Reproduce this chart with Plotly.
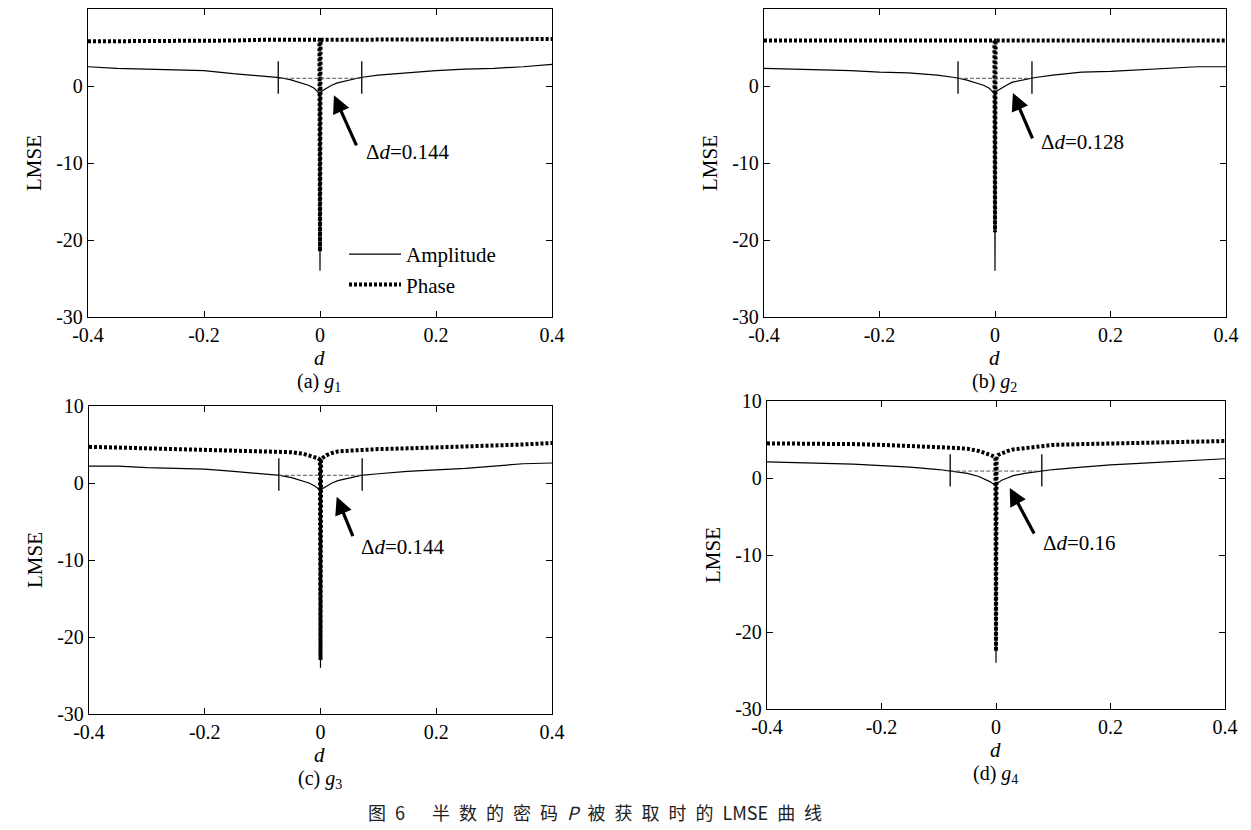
import plotly.graph_objects as go

# ---------------- data ----------------
d = [-0.4, -0.35, -0.3, -0.25, -0.2, -0.15, -0.1, -0.07, -0.05, -0.03, -0.02, -0.01,
     -0.004, -0.001, 0.0, 0.001, 0.004, 0.01, 0.02, 0.03, 0.05, 0.07, 0.1, 0.15,
     0.2, 0.25, 0.3, 0.35, 0.4]

amp_a = [2.5, 2.3, 2.2, 2.1, 2.0, 1.6, 1.3, 1.1, 0.8, 0.4, 0.1, -0.3, -0.8, -1.0, -24.0,
         -0.9, -0.6, -0.3, 0.1, 0.4, 0.8, 1.1, 1.4, 1.7, 2.0, 2.2, 2.3, 2.5, 2.8]
phase_a = [5.8, 5.8, 5.9, 5.9, 5.9, 5.9, 6.0, 6.0, 6.0, 6.0, 6.0, 6.0, 6.0, 6.0, -21.5,
           6.0, 6.0, 6.0, 6.0, 6.0, 6.0, 6.0, 6.0, 6.0, 6.0, 6.1, 6.1, 6.1, 6.1]

amp_b = [2.3, 2.2, 2.1, 2.0, 1.8, 1.7, 1.4, 1.1, 0.8, 0.4, 0.1, -0.3, -0.8, -1.0, -24.0,
         -0.9, -0.6, -0.3, 0.1, 0.5, 0.8, 1.1, 1.4, 1.8, 1.9, 2.1, 2.3, 2.5, 2.5]
phase_b = [5.9, 5.9, 5.9, 5.9, 5.9, 5.9, 5.9, 5.9, 5.9, 5.9, 5.9, 5.9, 5.9, 5.9, -19.0,
           5.9, 5.9, 5.9, 5.9, 5.9, 5.9, 5.9, 5.9, 5.9, 5.9, 5.9, 5.9, 5.9, 5.9]

amp_c = [2.2, 2.2, 2.0, 1.9, 1.8, 1.5, 1.2, 1.0, 0.7, 0.3, 0.0, -0.4, -0.7, -0.9, -24.0,
         -0.9, -0.7, -0.4, 0.0, 0.3, 0.7, 1.0, 1.2, 1.5, 1.7, 1.9, 2.2, 2.5, 2.6]
phase_c = [4.7, 4.6, 4.5, 4.5, 4.4, 4.3, 4.2, 4.1, 4.0, 3.8, 3.6, 3.4, 3.2, 3.0, -23.0,
           3.1, 3.3, 3.6, 3.9, 4.1, 4.2, 4.3, 4.4, 4.5, 4.6, 4.8, 4.9, 5.0, 5.2]

amp_d = [2.1, 2.0, 1.9, 1.8, 1.6, 1.4, 1.1, 0.8, 0.6, 0.2, -0.1, -0.5, -0.8, -1.0, -24.0,
         -0.9, -0.6, -0.3, 0.0, 0.3, 0.6, 0.8, 1.1, 1.4, 1.7, 1.9, 2.1, 2.3, 2.5]
phase_d = [4.5, 4.5, 4.4, 4.4, 4.3, 4.2, 4.0, 3.9, 3.8, 3.5, 3.3, 3.0, 2.8, 2.6, -22.5,
           2.8, 3.0, 3.2, 3.5, 3.7, 3.9, 4.1, 4.3, 4.4, 4.5, 4.6, 4.7, 4.8, 4.8]

delta_d = [0.144, 0.128, 0.144, 0.16]          # width between the two marks
mark_level = [1.0, 1.0, 1.0, 0.9]              # level of the dashed line
delta_labels = ["0.144", "0.128", "0.144", "0.16"]
panel_labels = ["(a) <i>g</i><sub>1</sub>", "(b) <i>g</i><sub>2</sub>",
                "(c) <i>g</i><sub>3</sub>", "(d) <i>g</i><sub>4</sub>"]
x_ticks = [-0.4, -0.2, 0, 0.2, 0.4]
x_ticktext = ["-0.4", "-0.2", "0", "0.2", "0.4"]
y_ticks = [-30, -20, -10, 0, 10]
y_ticktext = ["-30", "-20", "-10", "0", "10"]
caption = "图\u20026\u2003\u2002半\u2002数\u2002的\u2002密\u2002码\u2002<i>P</i>\u2002被\u2002获\u2002取\u2002时\u2002的\u2002LMSE\u2002曲\u2002线"

amps = [amp_a, amp_b, amp_c, amp_d]
phases = [phase_a, phase_b, phase_c, phase_d]

# ---------------- layout geometry (pixels) ----------------
W, H = 1251, 830
boxes = [(88, 552, 9, 317), (764, 1226, 9, 317), (89, 552, 406, 714), (767, 1225, 401, 709)]
txt_pos = [(0.076, -8.6), (0.076, -7.3), (0.066, -8.3), (0.079, -8.4)]
arr_tail = [(0.064, -7.9), (0.066, -7.0), (0.057, -7.1), (0.068, -7.4)]
arr_head = [(0.024, -1.2), (0.031, -0.9), (0.028, -1.8), (0.024, -1.3)]

SERIF = "Liberation Serif"

def px(x):
    return x / W

def py(y):
    return 1 - y / H

fig = go.Figure()
layout = dict(width=W, height=H, margin=dict(l=0, r=0, t=0, b=0, autoexpand=False),
              paper_bgcolor="white", plot_bgcolor="white",
              font=dict(family=SERIF, size=20, color="black"))
annotations = []

for i in range(4):
    xa = "x" if i == 0 else f"x{i+1}"
    ya = "y" if i == 0 else f"y{i+1}"
    xkey = "xaxis" if i == 0 else f"xaxis{i+1}"
    ykey = "yaxis" if i == 0 else f"yaxis{i+1}"
    l, r, t, b = boxes[i]
    common = dict(showgrid=False, zeroline=False, showline=True, linecolor="black",
                  linewidth=1.3, mirror="ticks", ticks="inside", ticklen=6,
                  tickwidth=1.3, tickcolor="black", automargin=False,
                  tickfont=dict(family=SERIF, size=20, color="black"))
    layout[xkey] = dict(domain=[px(l), px(r)], anchor=ya, range=[-0.4, 0.4],
                        tickvals=x_ticks, ticktext=x_ticktext, **common)
    layout[ykey] = dict(domain=[py(b), py(t)], anchor=xa, range=[-30, 10],
                        tickvals=y_ticks, ticktext=y_ticktext, **common)

    fig.add_trace(go.Scatter(x=d, y=amps[i], mode="lines", xaxis=xa, yaxis=ya,
                             line=dict(color="black", width=1.2),
                             name="Amplitude", showlegend=(i == 0), legendrank=1))
    fig.add_trace(go.Scatter(x=d, y=phases[i], mode="lines", xaxis=xa, yaxis=ya,
                             line=dict(color="black", width=4, dash="3px,2px"),
                             name="Phase", showlegend=(i == 0), legendrank=2))
    h = delta_d[i] / 2
    lv = mark_level[i]
    fig.add_trace(go.Scatter(x=[-h, h], y=[lv, lv], mode="lines", xaxis=xa, yaxis=ya,
                             line=dict(color="#555555", width=1, dash="4px,2px"),
                             showlegend=False, hoverinfo="skip"))
    fig.add_trace(go.Scatter(x=[-h, -h, None, h, h], y=[lv - 2.0, lv + 2.2, None, lv - 2.0, lv + 2.2],
                             mode="lines", xaxis=xa, yaxis=ya,
                             line=dict(color="black", width=1.3),
                             showlegend=False, hoverinfo="skip"))

    annotations.append(dict(x=arr_head[i][0], y=arr_head[i][1], ax=arr_tail[i][0], ay=arr_tail[i][1],
                            xref=xa, yref=ya, axref=xa, ayref=ya, text="", showarrow=True,
                            arrowhead=2, arrowsize=1.1, arrowwidth=3.2, arrowcolor="black"))
    annotations.append(dict(x=txt_pos[i][0], y=txt_pos[i][1], xref=xa, yref=ya,
                            text="Δ<i>d</i>=" + delta_labels[i], showarrow=False,
                            xanchor="left", yanchor="middle",
                            font=dict(family=SERIF, size=21, color="black")))
    cx = (l + r) / 2 - 1
    annotations.append(dict(x=px(cx), y=py(b + 41), xref="paper", yref="paper",
                            xanchor="center", yanchor="middle",
                            text="<i>d</i>", showarrow=False,
                            font=dict(family=SERIF, size=21, color="black")))
    annotations.append(dict(x=px(cx), y=py(b + 65), xref="paper", yref="paper",
                            xanchor="center", yanchor="middle",
                            text=panel_labels[i], showarrow=False,
                            font=dict(family=SERIF, size=20, color="black")))
    annotations.append(dict(x=px(l - 54), y=py((t + b) / 2), xref="paper", yref="paper",
                            xanchor="center", yanchor="middle",
                            text="LMSE", showarrow=False, textangle=-90,
                            font=dict(family=SERIF, size=21, color="black")))

annotations.append(dict(x=px(595), y=py(812), xref="paper", yref="paper",
                        xanchor="center", yanchor="middle",
                        text=caption, showarrow=False,
                        font=dict(family="Noto Sans CJK SC", size=18, color="#222222")))

layout["annotations"] = annotations
layout["showlegend"] = True
layout["legend"] = dict(x=px(344), y=py(234), xanchor="left", yanchor="top",
                        bgcolor="rgba(0,0,0,0)", borderwidth=0, tracegroupgap=0,
                        itemwidth=52,
                        font=dict(family=SERIF, size=21, color="black"))
fig.update_layout(**layout)
fig.write_html("out.html")
